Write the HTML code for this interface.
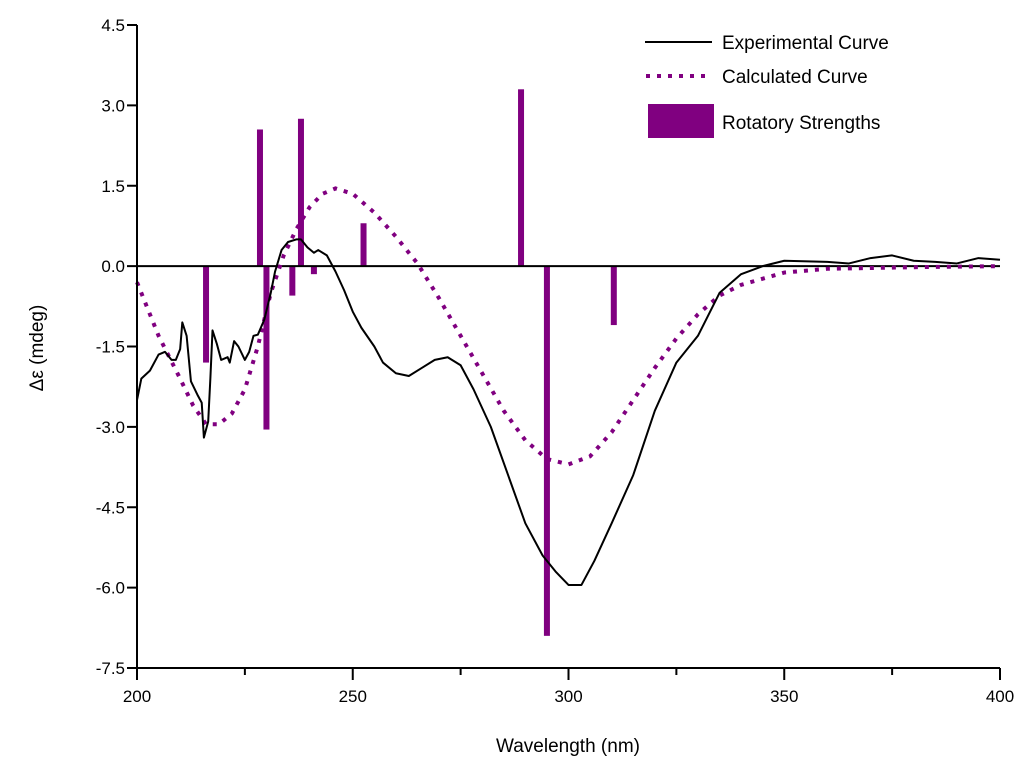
<!DOCTYPE html>
<html><head><meta charset="utf-8"><style>body{margin:0;background:#fff}svg{display:block;font-family:"Liberation Sans",sans-serif}</style></head>
<body>
<svg id="chart" width="1024" height="763" xmlns="http://www.w3.org/2000/svg"></svg>
<script>
const expX=[200,201,203,205,206.5,208,209,210,210.5,211.5,212.5,214,215,215.5,216.5,217,217.5,218.5,219.5,221,221.5,222.5,223.5,225,226,227,228,229.5,231,232,233.5,235,237,238,239.5,241,242,244,246,248,250,252,255,257,260,263,266,269,272,275,278,282,286,290,294,297,300,303,306,310,315,320,325,330,335,340,345,350,360,365,370,375,380,385,390,395,400];
const expY=[-2.5,-2.1,-1.95,-1.65,-1.6,-1.75,-1.75,-1.55,-1.05,-1.3,-2.15,-2.4,-2.55,-3.2,-2.9,-2.1,-1.2,-1.45,-1.75,-1.7,-1.8,-1.4,-1.5,-1.75,-1.6,-1.3,-1.28,-1.0,-0.5,-0.1,0.3,0.45,0.5,0.5,0.35,0.25,0.3,0.2,-0.1,-0.45,-0.85,-1.15,-1.5,-1.8,-2.0,-2.05,-1.9,-1.75,-1.7,-1.85,-2.3,-3.0,-3.9,-4.8,-5.4,-5.7,-5.95,-5.95,-5.5,-4.8,-3.9,-2.7,-1.8,-1.3,-0.5,-0.15,0.0,0.1,0.08,0.05,0.15,0.2,0.1,0.08,0.05,0.15,0.12];
const calcX=[200,205,210,213,216,219,222,225,228,231,234,237,240,243,246,250,255,260,265,270,275,280,285,290,295,300,305,310,315,320,325,330,335,340,350,360,380,400];
const calcY=[-0.3,-1.3,-2.1,-2.6,-2.95,-2.95,-2.75,-2.3,-1.5,-0.5,0.2,0.7,1.1,1.35,1.45,1.35,1.0,0.55,0.05,-0.6,-1.3,-2.0,-2.7,-3.25,-3.6,-3.7,-3.55,-3.1,-2.5,-1.9,-1.35,-0.9,-0.55,-0.35,-0.12,-0.05,-0.02,0];
const barX=[216,228.5,230,236,238,241,252.5,289,295,310.5];
const barY=[-1.8,2.55,-3.05,-0.55,2.75,-0.15,0.8,3.3,-6.9,-1.1];
const xTicks=[200,250,300,350,400];
const yTicks=[4.5,3.0,1.5,0.0,-1.5,-3.0,-4.5,-6.0,-7.5];

const svg=document.getElementById('chart');const NS='http://www.w3.org/2000/svg';
const X0=137,X1=1000,Y0=25,Y1=668;
const sx=v=>X0+(v-200)/200*(X1-X0);
const sy=v=>Y0+(4.5-v)/12*(Y1-Y0);
function el(t,a,p){const e=document.createElementNS(NS,t);for(const k in a)e.setAttribute(k,a[k]);(p||svg).appendChild(e);return e;}

const bars=el('g',{});


barX.forEach((x,i)=>{const y0=sy(0),y=sy(barY[i]);
const r=el('rect',{x:sx(x)-3,y:Math.min(y,y0),width:6,height:Math.abs(y-y0),fill:'#800080'},bars);

});

const zl=el('line',{x1:X0,x2:X1,y1:sy(0),y2:sy(0),stroke:'#000','stroke-width':2});



const cp=el('polyline',{points:calcX.map((x,i)=>sx(x)+','+sy(calcY[i])).join(' '),fill:'none',stroke:'#800080','stroke-width':4,'stroke-dasharray':'4 7'});


const ep=el('polyline',{points:expX.map((x,i)=>sx(x)+','+sy(expY[i])).join(' '),fill:'none',stroke:'#000','stroke-width':2,'stroke-linejoin':'round'});



const ax=el('path',{d:`M${X0},${Y0}V${Y1}H${X1}`,fill:'none',stroke:'#000','stroke-width':2});


yTicks.forEach(v=>{el('line',{x1:X0-10,x2:X0,y1:sy(v),y2:sy(v),stroke:'#000','stroke-width':2});
const t=el('text',{x:X0-12,y:sy(v)+6,'text-anchor':'end','font-size':17},svg);t.textContent=v.toFixed(1);

});
for(let v=200;v<=400;v+=25){el('line',{x1:sx(v),x2:sx(v),y1:Y1,y2:Y1+(v%50?7:12),stroke:'#000','stroke-width':2});}
xTicks.forEach(v=>{const t=el('text',{x:sx(v),y:Y1+34,'text-anchor':'middle','font-size':17});t.textContent=v;

});
</script>
<svg style="position:absolute;left:0;top:0" width="1024" height="763">
<text x="568" y="752" text-anchor="middle" font-size="19" font-family="Liberation Sans">Wavelength (nm)</text>
<text transform="translate(43,348) rotate(-90)" text-anchor="middle" font-size="19" font-family="Liberation Sans">Δε (mdeg)</text>
<g font-family="Liberation Sans" font-size="19">
<line x1="645" x2="712" y1="42" y2="42" stroke="#000" stroke-width="2"/>
<text x="722" y="49">Experimental Curve</text>
<line x1="646" x2="712" y1="76" y2="76" stroke="#800080" stroke-width="4" stroke-dasharray="4 7"/>
<text x="722" y="83">Calculated Curve</text>
<rect x="648" y="104" width="66" height="34" fill="#800080"/>
<text x="722" y="129">Rotatory Strengths</text>
</g></svg>
</body></html>
